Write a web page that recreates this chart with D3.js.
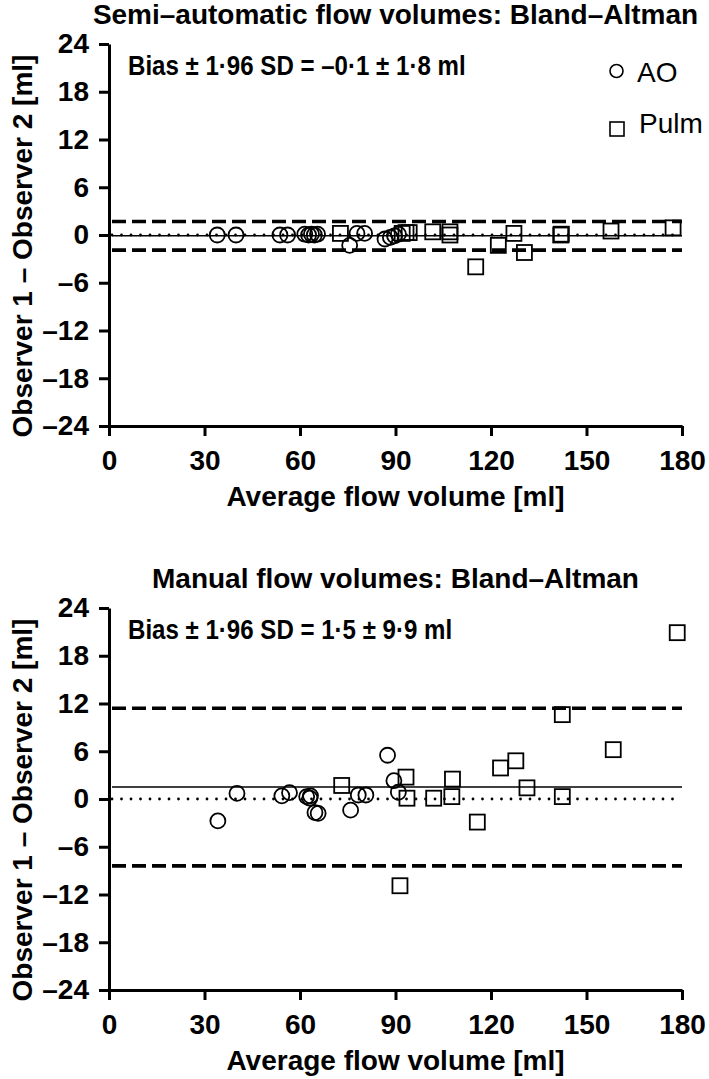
<!DOCTYPE html>
<html lang="en">
<head>
    <meta charset="UTF-8">
    <title>Bland-Altman: semi-automatic and manual flow volumes</title>
    <script src="https://d3js.org/d3.v7.min.js"></script>
    <style>
        body {
            margin: 0;
            background: #fff;
        }
        svg text {
            font-family: "Liberation Sans", Arial, sans-serif;
            fill: #000;
        }
    </style>
</head>
<body>
    <script>
        // axis ticks
        const xTicks = [0, 30, 60, 90, 120, 150, 180];
        const yTicks = [-24, -18, -12, -6, 0, 6, 12, 18, 24];

        // semi-automatic: AO (circles) and Pulm (squares)
        const aoAvgSemi = [34.0, 39.9, 53.7, 56.1, 61.5, 62.7, 63.6, 64.5, 65.5, 75.6, 77.9, 80.3, 86.7, 88.4, 89.7, 90.9];
        const aoDiffSemi = [0, 0, 0, 0, 0.1, 0, 0.1, 0, 0.1, -1.3, 0.2, 0.2, -0.5, -0.3, -0.1, 0.1];
        const pulmAvgSemi = [72.7, 92.1, 93.3, 94.3, 101.7, 107.1, 107.1, 115.2, 122.3, 127.2, 130.5, 141.9, 142.1, 157.7, 177.2];
        const pulmDiffSemi = [0.2, 0.2, 0.3, 0.3, 0.4, 0.4, 0, -4.0, -1.3, 0.2, -2.2, 0, 0.1, 0.5, 0.9];
        const biasSemi = -0.1, sdSemi = 1.8;

        // manual
        const aoAvgMan = [34.2, 40.2, 54.3, 56.7, 62.1, 63.1, 63.3, 64.7, 65.7, 75.9, 78.3, 80.7, 87.5, 89.5, 90.9];
        const aoDiffMan = [-2.75, 0.7, 0.4, 0.8, 0.3, 0.1, 0.4, -1.7, -1.8, -1.4, 0.5, 0.5, 5.5, 2.3, 0.85];
        const pulmAvgMan = [73.1, 91.4, 93.3, 93.6, 102.0, 107.7, 107.9, 115.7, 123.0, 127.8, 131.3, 142.4, 142.4, 158.4, 178.5];
        const pulmDiffMan = [1.7, -10.9, 2.75, 0.1, 0.1, 0.3, 2.5, -2.9, 3.9, 4.8, 1.4, 10.6, 0.3, 6.2, 20.9];
        const biasMan = 1.5, sdMan = 9.9;

        const width = 709, height = 1079;
        const svg = d3.select("body").append("svg")
            .attr("width", width)
            .attr("height", height);

        const fmt = d => d < 0 ? "\u2013" + Math.abs(d) : String(d);
        const dot = v => String(Math.abs(v)).replace(".", "\u00b7");
        const signed = v => (v < 0 ? "\u2013" : "") + dot(v);

        function panel(top, title, aoX, aoY, pulmX, pulmY, bias, sd, legend) {
            const g = svg.append("g").attr("transform", `translate(0,${top})`);
            const x = d3.scaleLinear().domain([0, 180]).range([109, 682]);
            const y = d3.scaleLinear().domain([-24, 24]).range([426, 44]);

            // reference lines: zero (dotted), bias (solid), bias ± 1.96 SD (dashed)
            const line = v => g.append("line")
                .attr("x1", x(0) + 3).attr("x2", x(180))
                .attr("y1", y(v)).attr("y2", y(v))
                .attr("stroke", "#000");
            line(0).attr("stroke-width", 2.8).attr("stroke-dasharray", "0,9.5")
                .attr("stroke-linecap", "round");
            line(bias).attr("stroke-width", 1.6);
            line(bias + sd).attr("stroke-width", 3.6).attr("stroke-dasharray", "14,6");
            line(bias - sd).attr("stroke-width", 3.6).attr("stroke-dasharray", "14,6");

            // axes
            const ax = g.append("g")
                .attr("transform", `translate(0,${y(-24)})`)
                .call(d3.axisBottom(x).tickValues(xTicks).tickSize(10).tickSizeOuter(0).tickPadding(14));
            const ay = g.append("g")
                .attr("transform", `translate(${x(0)},0)`)
                .call(d3.axisLeft(y).tickValues(yTicks).tickFormat(fmt).tickSize(10).tickSizeOuter(0).tickPadding(10));
            [ax, ay].forEach(a => {
                a.attr("font-size", null).attr("font-family", null);
                a.selectAll("path, line").attr("stroke", "#000").attr("stroke-width", 3);
                a.selectAll("text").style("font-size", "28px").style("font-weight", "bold");
            });

            // points
            g.append("g").selectAll("circle")
                .data(aoX.map((d, i) => [d, aoY[i]]))
                .join("circle")
                .attr("cx", d => x(d[0])).attr("cy", d => y(d[1]))
                .attr("r", 7.5)
                .attr("fill", "none").attr("stroke", "#000").attr("stroke-width", 1.8);
            g.append("g").selectAll("rect")
                .data(pulmX.map((d, i) => [d, pulmY[i]]))
                .join("rect")
                .attr("x", d => x(d[0]) - 7.5).attr("y", d => y(d[1]) - 7.5)
                .attr("width", 15).attr("height", 15)
                .attr("fill", "none").attr("stroke", "#000").attr("stroke-width", 1.8);

            // titles
            g.append("text")
                .attr("x", (x(0) + x(180)) / 2).attr("y", 24)
                .attr("text-anchor", "middle")
                .style("font-size", "28px").style("font-weight", "bold")
                .text(title);
            g.append("text")
                .attr("x", (x(0) + x(180)) / 2).attr("y", y(-24) + 80)
                .attr("text-anchor", "middle")
                .style("font-size", "28px").style("font-weight", "bold")
                .text("Average flow volume [ml]");
            g.append("text")
                .attr("transform", `translate(32,${y(0) + 11}) rotate(-90)`)
                .attr("text-anchor", "middle")
                .style("font-size", "28px").style("font-weight", "bold")
                .text("Observer 1 \u2013 Observer 2 [ml]");
            // bias text is set narrower in the reference
            g.append("text")
                .attr("transform", "translate(128,75) scale(0.86,1)")
                .style("font-size", "28px").style("font-weight", "bold")
                .text(`Bias \u00b1 1\u00b796 SD = ${signed(bias)} \u00b1 ${dot(sd)} ml`);

            // legend
            if (legend) {
                g.append("circle").attr("cx", 616.5).attr("cy", 71).attr("r", 6.5)
                    .attr("fill", "none").attr("stroke", "#000").attr("stroke-width", 1.6);
                g.append("text").attr("x", 637).attr("y", 82)
                    .style("font-size", "28px").text("AO");
                g.append("rect").attr("x", 610).attr("y", 122).attr("width", 14).attr("height", 14)
                    .attr("fill", "none").attr("stroke", "#000").attr("stroke-width", 1.6);
                g.append("text").attr("x", 639).attr("y", 133)
                    .style("font-size", "28px").text("Pulm");
            }
        }

        // sd holds the 1.96 SD half-width of the limits of agreement
        panel(0, "Semi\u2013automatic flow volumes: Bland\u2013Altman",
            aoAvgSemi, aoDiffSemi, pulmAvgSemi, pulmDiffSemi, biasSemi, sdSemi, true);
        panel(564, "Manual flow volumes: Bland\u2013Altman",
            aoAvgMan, aoDiffMan, pulmAvgMan, pulmDiffMan, biasMan, sdMan, false);
    </script>
</body>
</html>
